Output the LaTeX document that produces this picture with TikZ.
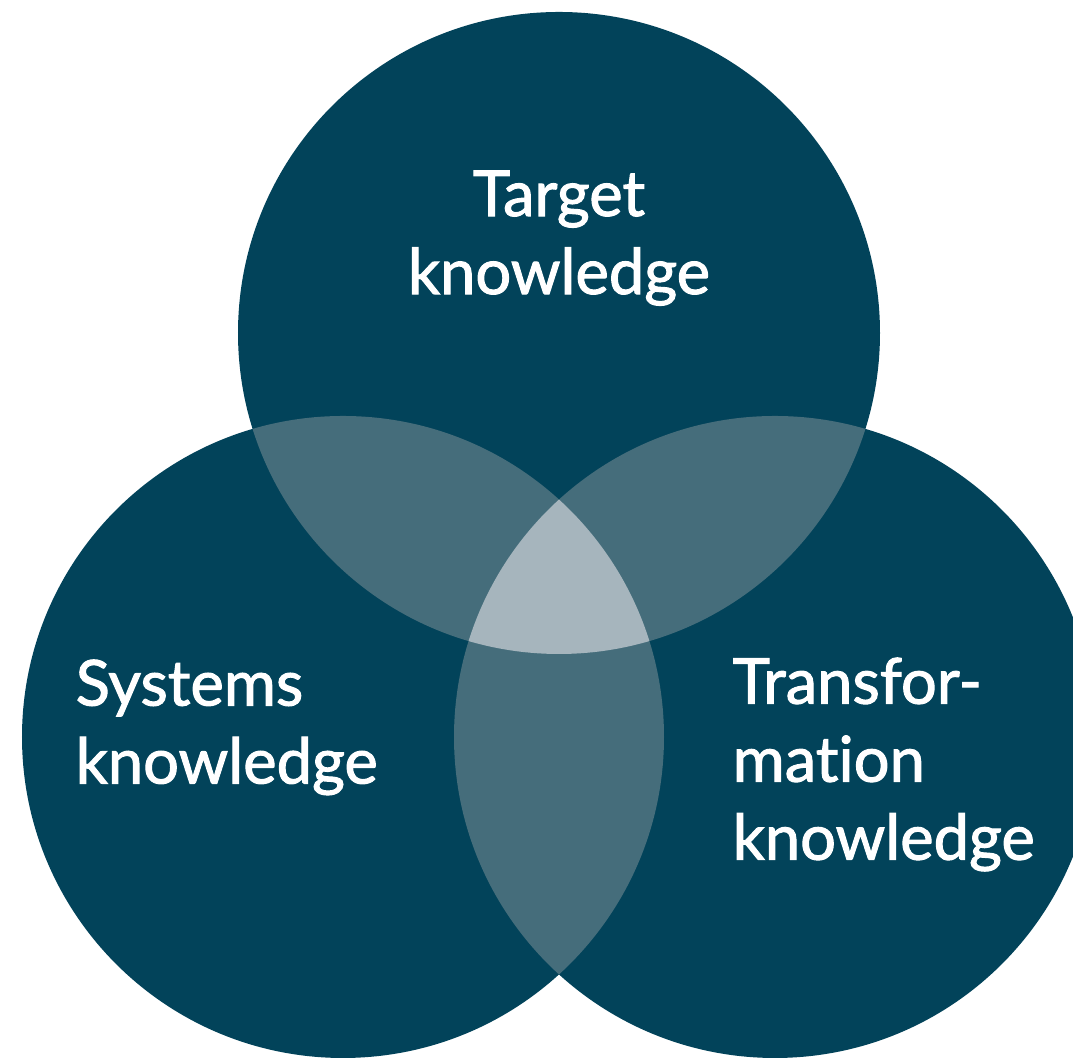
\documentclass[tikz,border=0pt]{standalone}
\usepackage{fontspec}
\newfontfamily\labelfont{Lato}[FakeBold=1.6, Ligatures=NoCommon]
\definecolor{petrol}{HTML}{02435A}
\definecolor{petrolmid}{HTML}{456D7B}
\definecolor{petrollight}{HTML}{A6B5BD}
\def\r{3.21}
\def\c{circle (\r)}
\tikzset{label text/.style={text=white, inner sep=0pt, font=\labelfont\fontsize{18pt}{22.2pt}\selectfont}}

\begin{document}
\begin{tikzpicture}
\useasboundingbox (0,0) rectangle (10.73,10.60);
\clip (0,0) rectangle (10.73,10.60);
\coordinate (T) at (5.59,7.27);
\coordinate (S) at (3.43,3.23);
\coordinate (R) at (7.75,3.23);

\foreach \x in {(T), (S), (R)}{
	\fill[petrol] \x \c;
}
\begin{scope}
	\clip (T) \c;
	\fill[petrolmid] (S) \c (R) \c;
\end{scope}
\begin{scope}
	\clip (S) \c;
	\fill[petrolmid] (R) \c;
\end{scope}
\begin{scope}
	\clip (T) \c;
	\clip (S) \c;
	\fill[petrollight] (R) \c;
\end{scope}

\node[label text, anchor=north, align=center] (target) at (5.59,8.90) {Target\\knowledge};
\node[label text, anchor=north west, align=left] (systems) at (0.75,4.01) {Systems\\knowledge};
\node[label text, anchor=north west, align=left] (transformation) at (7.32,4.03) {Transfor-\\mation\\knowledge};
\end{tikzpicture}
\end{document}
